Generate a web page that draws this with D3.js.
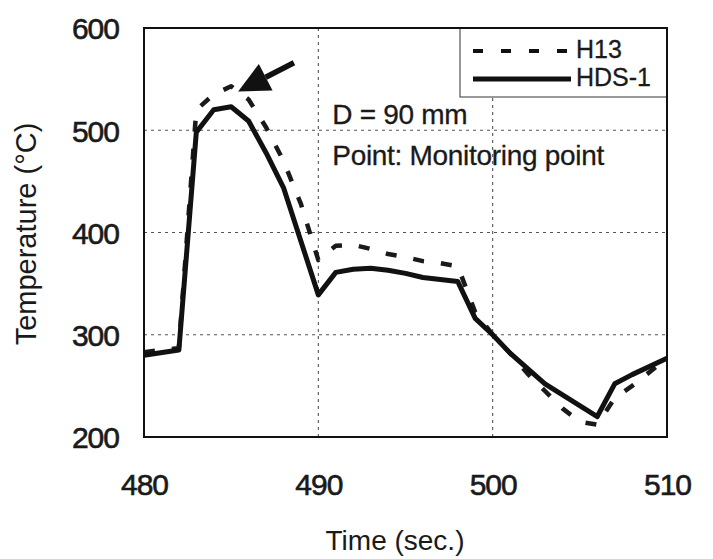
<!DOCTYPE html>
<html>
<head>
<meta charset="utf-8">
<script src="https://cdn.jsdelivr.net/npm/d3@7"></script>
<style>
  html, body { margin: 0; padding: 0; background: #fff; }
  svg { display: block; }
  text { font-family: Arial, "Liberation Sans", Helvetica, sans-serif; fill: #1a1a1a; }
</style>
</head>
<body>
<svg id="chart" width="713" height="559"></svg>
<script>
// Temperature history at the monitoring point (D = 90 mm)
const h13Time = [480, 482, 483, 484, 485, 486, 487, 488, 489, 490, 491, 492, 493, 494, 495, 496, 497, 498, 499, 500, 501, 502, 503, 504, 505, 506, 507, 508, 510];
const h13Temp = [283, 287, 520, 535, 543, 530, 503, 470, 428, 373, 387, 388, 384, 379, 376, 372, 370, 367, 322, 300, 282, 262, 245, 228, 215, 212, 238, 250, 277];

const hdsTime = [480, 482, 483, 484, 485, 486, 487, 488, 490, 491, 492, 493, 494, 495, 496, 497, 498, 499, 500, 501, 503, 506, 507, 508, 510];
const hdsTemp = [280, 285, 498, 520, 523, 509, 478, 444, 339, 361, 364, 365, 363, 360, 356, 354, 352, 316, 300, 282, 252, 220, 252, 261, 277];

const xTicks = [480, 490, 500, 510];
const yTicks = [200, 300, 400, 500, 600];
const xGrid = [490, 500];
const yGrid = [300, 400, 500];

const seriesNames = ["H13", "HDS-1"];
const noteLines = ["D = 90 mm", "Point: Monitoring point"];
// annotation anchors in data units (time, temperature)
const noteTime = [490.8, 490.8];
const noteTemp = [506, 466];
const arrowTail = [488.6, 566];
const arrowTip = [485.4, 538];

const xTitle = "Time (sec.)";
const yTitle = "Temperature (°C)";

const svg = d3.select("#chart");
const plot = { left: 144, right: 667, top: 28, bottom: 437 };

const x = d3.scaleLinear().domain([480, 510]).range([plot.left, plot.right]);
const y = d3.scaleLinear().domain([200, 600]).range([plot.bottom, plot.top]);

// grid lines
const grid = svg.append("g").attr("stroke", "#555").attr("stroke-width", 1.1)
  .attr("stroke-dasharray", "3,4");
grid.selectAll(".gx").data(xGrid).join("line")
  .attr("x1", d => x(d)).attr("x2", d => x(d))
  .attr("y1", plot.top).attr("y2", plot.bottom);
grid.selectAll(".gy").data(yGrid).join("line")
  .attr("x1", plot.left).attr("x2", plot.right)
  .attr("y1", d => y(d)).attr("y2", d => y(d));

// axes (labels only, the frame is drawn separately)
const xAxis = svg.append("g").attr("transform", `translate(0,${plot.bottom})`)
  .call(d3.axisBottom(x).tickValues(xTicks).tickSize(0).tickPadding(37).tickFormat(d3.format("d")));
const yAxis = svg.append("g").attr("transform", `translate(${plot.left},0)`)
  .call(d3.axisLeft(y).tickValues(yTicks).tickSize(0).tickPadding(25).tickFormat(d3.format("d")));
[xAxis, yAxis].forEach(a => {
  a.select(".domain").remove();
  a.selectAll("text").attr("font-size", 30).attr("fill", "#1a1a1a")
    .attr("font-family", "Arial, 'Liberation Sans', sans-serif")
    .attr("letter-spacing", "-1px")
    .attr("stroke", "#1a1a1a").attr("stroke-width", 0.6);
});
xAxis.selectAll("text").attr("dy", "0.71em");
yAxis.selectAll("text").attr("dy", "0.36em");

// series
const line = d3.line().x(d => x(d[0])).y(d => y(d[1]));
const h13Data = h13Time.map((t, i) => [t, h13Temp[i]]);
const hdsData = hdsTime.map((t, i) => [t, hdsTemp[i]]);

svg.append("path").datum(h13Data).attr("d", line)
  .attr("fill", "none").attr("stroke", "#1a1a1a").attr("stroke-width", 4.5)
  .attr("stroke-dasharray", "11,17").attr("stroke-linejoin", "round");
svg.append("path").datum(hdsData).attr("d", line)
  .attr("fill", "none").attr("stroke", "#111").attr("stroke-width", 5)
  .attr("stroke-linejoin", "round");

// legend
const lg = svg.append("g");
lg.append("rect").attr("x", 460).attr("y", plot.top).attr("width", plot.right - 460).attr("height", 69)
  .attr("fill", "#fff").attr("stroke", "#333").attr("stroke-width", 1);
const legendRows = [51, 79];
lg.selectAll(".ls").data(seriesNames).join("line")
  .attr("x1", 473).attr("x2", 571)
  .attr("y1", (d, i) => legendRows[i]).attr("y2", (d, i) => legendRows[i])
  .attr("stroke", "#111")
  .attr("stroke-width", (d, i) => i === 0 ? 4 : 5)
  .attr("stroke-dasharray", (d, i) => i === 0 ? "10,18" : null);
lg.selectAll(".lt").data(seriesNames).join("text")
  .attr("x", 576).attr("y", (d, i) => legendRows[i] + 7)
  .attr("font-size", 25).attr("stroke", "#1a1a1a").attr("stroke-width", 0.3)
  .text(d => d);

// frame
svg.append("rect").attr("x", plot.left).attr("y", plot.top)
  .attr("width", plot.right - plot.left).attr("height", plot.bottom - plot.top)
  .attr("fill", "none").attr("stroke", "#111").attr("stroke-width", 2);

// notes
svg.selectAll(".note").data(noteLines).join("text")
  .attr("x", (d, i) => x(noteTime[i])).attr("y", (d, i) => y(noteTemp[i]))
  .attr("font-size", 28).attr("letter-spacing", "-0.3px")
  .attr("stroke", "#1a1a1a").attr("stroke-width", 0.3)
  .text(d => d);

// arrow pointing at the H13 peak
const ax0 = x(arrowTail[0]), ay0 = y(arrowTail[1]);
const ax1 = x(arrowTip[0]), ay1 = y(arrowTip[1]);
const ang = Math.atan2(ay1 - ay0, ax1 - ax0);
const headLen = 31, headHalf = 15;
const bx = ax1 - headLen * Math.cos(ang), by = ay1 - headLen * Math.sin(ang);
svg.append("line").attr("x1", ax0).attr("y1", ay0).attr("x2", bx).attr("y2", by)
  .attr("stroke", "#111").attr("stroke-width", 5.5);
svg.append("path")
  .attr("d", d3.line()([
    [ax1, ay1],
    [bx + headHalf * Math.sin(ang), by - headHalf * Math.cos(ang)],
    [bx - headHalf * Math.sin(ang), by + headHalf * Math.cos(ang)]
  ]) + "Z")
  .attr("fill", "#111");

// axis titles
svg.append("text").attr("x", 395).attr("y", 550).attr("text-anchor", "middle")
  .attr("font-size", 28).text(xTitle);
svg.append("text").attr("transform", "translate(36,234) rotate(-90)")
  .attr("text-anchor", "middle").attr("font-size", 29).text(yTitle);
</script>
</body>
</html>
